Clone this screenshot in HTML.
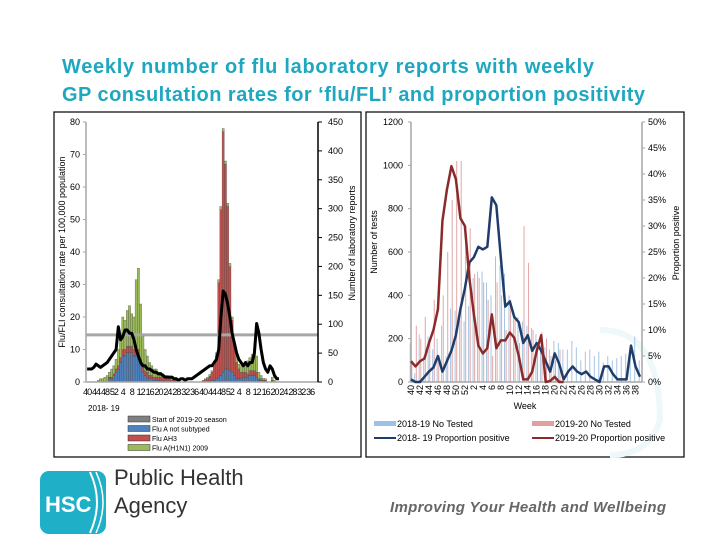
<!DOCTYPE html>
<html><head><meta charset="utf-8"><style>
html,body{margin:0;padding:0;background:#fff;}
svg{display:block;font-family:"Liberation Sans",sans-serif;}
</style></head><body>
<svg id="s" width="720" height="540" viewBox="0 0 720 540">
<g font-weight="bold" font-size="20" fill="#1fa7c0">
<text x="62" y="73" textLength="532">Weekly number of flu laboratory reports with weekly</text>
<text x="62" y="101" textLength="583">GP consultation rates for ‘flu/FLI’ and proportion positivity</text>
</g>
<rect x="54" y="112" width="307" height="345" fill="none" stroke="#000" stroke-width="1.2"/>
<rect x="366" y="112" width="318" height="345" fill="none" stroke="#000" stroke-width="1.2"/>
<g id="left"></g>
<g id="right"></g>
<g>
<rect x="40" y="471" width="66" height="63" rx="9" fill="#1fb0c8"/>
<path d="M90 472 Q104 502 90 533" stroke="#fff" stroke-width="2" fill="none"/>
<path d="M96 472 Q110 502 96 533" stroke="#fff" stroke-width="1.5" fill="none"/>
<text x="45" y="512" font-size="22" font-weight="bold" fill="#fff">HSC</text>
<text x="114" y="485" font-size="22" fill="#333">Public Health</text>
<text x="114" y="513" font-size="22" fill="#333">Agency</text>
</g>
<text x="390" y="512" font-size="15" font-weight="bold" font-style="italic" fill="#666" textLength="276">Improving Your Health and Wellbeing</text>
</svg>
<script>
// ---- Left chart data (index 0 = week 40 2018) ----
const leftWeekLabels = ["40","44","48","52","4","8","12","16","20","24","28","32","36","40","44","48","52","4","8","12","16","20","24","28","32","36"];
const fluANotSubtyped = [0,0,0,0,0,0,0,0,0,0,1,1,2,3,4,6,8,8,9,9,9,8,8,7,5,3,2,1.5,1,1,0.5,0.5,0.5,0.5,0.3,0.3,0.2,0.2,0,0,0,0,0,0,0,0,0,0,0,0,0,0,0,0,0,0.3,0.5,0.5,1,1.5,2,3,4,4,3.5,3,2,1,1,1,1.5,1.5,1.5,2,2,2,1.5,0.5,0.5,0.3,0.2,0,0,0.3,0];
const fluAH3 = [0,0,0,0,0,0,0,0,0,0,0.5,0.5,0.5,1,1,1.5,2,2,2,2,2,2,3,3,2,2,1.5,1.5,1,1,1,1,1,1,1,1,1,0.8,0.5,0.5,0.5,0.3,0,0,0,0,0,0,0,0,0,0,0.5,0.7,1,1.5,2.5,4.5,7,29,51,74,63,50,32,16,9,5,3,2,1.5,1.5,1,1.5,1.5,1.5,1.5,0.5,0.5,0.3,0.3,0,0,0.3,0];
const fluAH1N1 = [0,0,0,0,0,0.5,1,1,1.5,2,1.5,2.5,2.5,3,5,6.5,10,9,11,12.5,10,10,20.5,25,17,9,6.5,5,4,3,2.5,2.5,1.5,1.5,1.2,0.7,0.8,0.5,0.5,0.5,0.5,0.2,0,0,0,0,0,0,0,0,0,0,0,0.3,0.5,0.5,0.5,0.5,1,1,1,1,1,1,1,1,1,2,1.5,2,2.5,2,4,4,5,6.5,5,2,1,0.5,0.5,0,0,0.9,0.5];
const consultRate = [4,4,4,4.5,5.5,5,4.5,5,5.5,6,7,8,9,10,17,13,14,16,16,15,15,13,10,8,6,5,5,4,4,3.5,3,3,2.5,2.5,2,1.5,1.5,1.5,1.5,1,1,0.5,1,1,0.5,1,1,1,1.5,2,2.5,3,3.5,4,4.5,5,5,6,7,10,20,28,27,24,20,15,12,9,7,6,5,6,5,6,6,9,18,15,10,6,4,3,5,4,2,1,1];
const thresholdRate = [14.5];
const leftTicks = [0,10,20,30,40,50,60,70,80];
const rightTicks = [0,50,100,150,200,250,300,350,400,450];

// ---- Right chart data (index 0 = week 40) ----
const rightWeekLabels = ["40","42","44","46","48","50","52","2","4","6","8","10","12","14","16","18","20","22","24","26","28","30","32","34","36","38"];
const tested1819 = [180,40,220,120,210,150,200,260,120,340,330,320,280,350,480,510,510,460,400,580,540,500,400,330,300,280,260,250,220,170,160,150,190,180,150,150,190,160,100,140,150,120,140,90,120,100,110,120,130,160,210,100];
const tested1920 = [100,260,200,300,200,380,120,400,600,840,1020,1020,720,710,500,480,460,380,120,460,400,240,380,300,180,720,550,240,150,230,200,120,100,150];
const propPos1819 = [0.5,0,0,1,2,2.8,5,2,4,6,9,14,18,23,24,26,25.5,26,35.5,34,24,14.5,15.5,12.5,11.5,7.5,9,6,7.5,6,4,2,5.5,3.5,0.5,2,3,2,1.5,2,1,0.5,0,3,3,1.5,0.5,0.5,0.5,7,3,1];
const propPos1920 = [4,3,4,4.5,7.5,10,14,31,37,41.5,39,31.5,30,20,13,7,5.5,6.5,13,6.5,8,8,9.5,8.5,5,0.5,0.5,2,6,9,0,0.2,1,0,0];
const testTicks = [0,200,400,600,800,1000,1200];
const pctTicks = [0,5,10,15,20,25,30,35,40,45,50];

const NS="http://www.w3.org/2000/svg";
function mk(parent,tag,attrs,text){const e=document.createElementNS(NS,tag);for(const k in attrs)e.setAttribute(k,attrs[k]);if(text!==undefined)e.textContent=text;parent.appendChild(e);return e;}

// ---- Left chart ----
const L=document.getElementById('left');
const lx0=86,lx1=318,ly0=382,ly1=122,nW=104;
const bw=(lx1-lx0)/nW;
const xL=i=>lx0+i*bw;
const yRate=v=>ly0-(v/80)*(ly0-ly1);
const yRep=v=>ly0-(v/450)*(ly0-ly1);
for(let i=0;i<fluANotSubtyped.length;i++){
  let base=0;
  const parts=[[fluANotSubtyped[i],'#4f81bd','bar-flu-a-not-subtyped'],[fluAH3[i]||0,'#c0504d','bar-flu-ah3'],[fluAH1N1[i]||0,'#9bbb59','bar-flu-h1n1']];
  for(const p of parts){
    if(p[0]<=0)continue;
    const y0=yRate(base),y1=yRate(base+p[0]);
    const r=mk(L,'rect',{x:xL(i),y:y1,width:bw,height:y0-y1,fill:p[1],stroke:'#444','stroke-width':0.3});
    
    
    base+=p[0];
  }
}
const th=mk(L,'line',{x1:lx0,x2:lx1,y1:yRate(thresholdRate[0]),y2:yRate(thresholdRate[0]),stroke:'#a6a6a6','stroke-width':3});


const cl=mk(L,'polyline',{points:consultRate.map((v,i)=>(xL(i)+bw/2)+','+yRate(v)).join(' '),fill:'none',stroke:'#000','stroke-width':3,'stroke-linejoin':'round'});


mk(L,'line',{x1:lx0,x2:lx0,y1:ly1,y2:ly0,stroke:'#a6a6a6','stroke-width':1.5});
mk(L,'line',{x1:lx0,x2:lx1,y1:ly0,y2:ly0,stroke:'#a6a6a6','stroke-width':1.5});
mk(L,'line',{x1:lx1,x2:lx1,y1:ly1,y2:ly0,stroke:'#000','stroke-width':1.5});
leftTicks.forEach(t=>{const y=yRate(t);mk(L,'line',{x1:lx0-3,x2:lx0,y1:y,y2:y,stroke:'#a6a6a6'});
  const e=mk(L,'text',{x:lx0-6,y:y+3,'font-size':9,'text-anchor':'end'},String(t));
  
  });
rightTicks.forEach(t=>{const y=yRep(t);mk(L,'line',{x1:lx1,x2:lx1+4,y1:y,y2:y,stroke:'#000'});
  const e=mk(L,'text',{x:lx1+10,y:y+3,'font-size':9},String(t));
  
  });
leftWeekLabels.forEach((t,k)=>{const e=mk(L,'text',{x:xL(k*4)+bw/2,y:395,'font-size':9,'text-anchor':'middle','letter-spacing':'-1'},t);
  
  });
let e;
e=mk(L,'text',{x:88,y:411,'font-size':8},'2018- 19');


e=mk(L,'text',{transform:'translate(65,252) rotate(-90)','font-size':9,'text-anchor':'middle'},'Flu/FLI consultation rate per 100,000 population');


e=mk(L,'text',{transform:'translate(355,243) rotate(-90)','font-size':9,'text-anchor':'middle'},'Number of laboratory reports');


const lleg=[['#7f7f7f','Start of 2019-20 season'],['#4f81bd','Flu A not subtyped'],['#c0504d','Flu AH3'],['#9bbb59','Flu A(H1N1) 2009']];
lleg.forEach((d,k)=>{const y=417+k*9.5;
  const r=mk(L,'rect',{x:128,y:y-1,width:22,height:6,fill:d[0],stroke:'#333','stroke-width':0.5});
  
  
  const t=mk(L,'text',{x:152,y:y+5,'font-size':7},d[1]);
  
  });

// ---- Right chart ----
const R=document.getElementById('right');
const rx0=411,rx1=640,ry0=382,ry1=122;
const step=(rx1-rx0)/51;
const xR=i=>rx0+i*step;
const yT=v=>ry0-(v/1200)*(ry0-ry1);
const yP=v=>ry0-(v/50)*(ry0-ry1);
// watermark swirl
mk(R,'path',{d:'M600 330 Q660 330 660 420 Q650 455 610 455',fill:'none',stroke:'#eef8fa','stroke-width':6});
tested1819.forEach((v,i)=>{const b=mk(R,'line',{x1:xR(i)-0.8,x2:xR(i)-0.8,y1:ry0,y2:yT(v),stroke:'#a8c4e0','stroke-width':1});
  
  });
tested1920.forEach((v,i)=>{const b=mk(R,'line',{x1:xR(i)+0.8,x2:xR(i)+0.8,y1:ry0,y2:yT(v),stroke:'#e0a6a6','stroke-width':1});
  
  });
mk(R,'line',{x1:rx0,x2:rx0,y1:ry1,y2:ry0,stroke:'#a6a6a6','stroke-width':1.5});
mk(R,'line',{x1:rx0,x2:rx1+2,y1:ry0,y2:ry0,stroke:'#a6a6a6','stroke-width':1.5});
mk(R,'line',{x1:rx1+2,x2:rx1+2,y1:ry1,y2:ry0,stroke:'#a6a6a6','stroke-width':1.5});
const p1=mk(R,'polyline',{points:propPos1819.map((v,i)=>xR(i)+','+yP(v)).join(' '),fill:'none',stroke:'#1f3d6b','stroke-width':2.5,'stroke-linejoin':'round'});


const p2=mk(R,'polyline',{points:propPos1920.map((v,i)=>xR(i)+','+yP(v)).join(' '),fill:'none',stroke:'#8b2a2a','stroke-width':2.5,'stroke-linejoin':'round'});


testTicks.forEach(t=>{const y=yT(t);mk(R,'line',{x1:rx0-3,x2:rx0,y1:y,y2:y,stroke:'#a6a6a6'});
  const e=mk(R,'text',{x:rx0-8,y:y+3,'font-size':9,'text-anchor':'end'},String(t));
  
  });
pctTicks.forEach(t=>{const y=yP(t);mk(R,'line',{x1:rx1+2,x2:rx1+5,y1:y,y2:y,stroke:'#a6a6a6'});
  const e=mk(R,'text',{x:rx1+8,y:y+3,'font-size':9},t+'%');
  
  });
rightWeekLabels.forEach((t,k)=>{const x=xR(k*2);
  const e=mk(R,'text',{transform:'translate('+(x+3)+',385) rotate(-90)','font-size':9,'text-anchor':'end'},t);
  
  });
e=mk(R,'text',{x:525,y:409,'font-size':9,'text-anchor':'middle'},'Week');


e=mk(R,'text',{transform:'translate(377,242) rotate(-90)','font-size':9,'text-anchor':'middle'},'Number of tests');


e=mk(R,'text',{transform:'translate(679,243) rotate(-90)','font-size':9,'text-anchor':'middle'},'Proportion positive');


const rleg=[[374,424,'#9dc0e4','rect','2018-19 No Tested'],[532,424,'#e0a0a0','rect','2019-20 No Tested'],[374,438,'#1f3d6b','line','2018- 19 Proportion positive'],[532,438,'#8b2a2a','line','2019-20 Proportion positive']];
rleg.forEach(d=>{
  let s;
  if(d[3]==='rect') s=mk(R,'rect',{x:d[0],y:d[1]-3,width:22,height:5,fill:d[2]});
  else s=mk(R,'line',{x1:d[0],x2:d[0]+22,y1:d[1],y2:d[1],stroke:d[2],'stroke-width':2});
  
  
  const t=mk(R,'text',{x:d[0]+23,y:d[1]+3,'font-size':9},d[4]);
  
  });
</script>
</body></html>
